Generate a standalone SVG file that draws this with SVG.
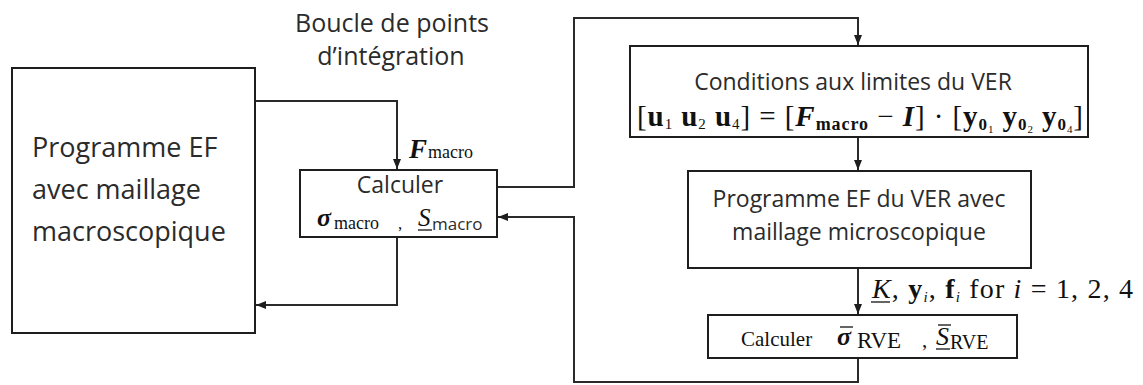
<svg xmlns="http://www.w3.org/2000/svg" width="1143" height="385" viewBox="0 0 1143 385">
<style>
.box{fill:#fff;stroke:#1e1e1e;stroke-width:2}
.cn{fill:none;stroke:#2a2a2a;stroke-width:2}
.ul{stroke:#111;stroke-width:1.3}
.s{font-family:"Open Sans","Noto Sans",sans-serif;fill:#2b2b2b}
.m{font-family:"Liberation Serif","DejaVu Serif",serif;fill:#111}
.b{font-weight:bold}
.bi{font-weight:bold;font-style:italic}
.i{font-style:italic}
</style>
<defs>
<marker id="ah" markerUnits="userSpaceOnUse" markerWidth="10" markerHeight="9" viewBox="0 0 10 8" refX="10" refY="4" orient="auto"><path d="M0,0 L10,4 L0,8 z" fill="#1e1e1e"/></marker>
</defs>
<rect width="1143" height="385" fill="#fff"/>

<g id="title">
<text class="s" x="392" y="32" font-size="25" text-anchor="middle">Boucle de points</text>
<text class="s" x="391" y="65" font-size="25" text-anchor="middle">d’intégration</text>
</g>

<g id="connectors">
<path class="cn" d="M255,101 H397 V169" marker-end="url(#ah)"/>
<path class="cn" d="M497,187 H574 V18 H858 V45" marker-end="url(#ah)"/>
<path class="cn" d="M858,137 V170" marker-end="url(#ah)"/>
<path class="cn" d="M858,268 V314" marker-end="url(#ah)"/>
<path class="cn" d="M858,358 V382 H574 V217 H498" marker-end="url(#ah)"/>
<path class="cn" d="M397,237 V305 H256" marker-end="url(#ah)"/>
<g id="label-F">
<text class="m" x="409" y="158" font-size="27"><tspan class="bi">F</tspan><tspan font-size="18" dx="1">macro</tspan></text>
</g>
<g id="label-K">
<text class="m" x="872" y="298" font-size="28" textLength="261" lengthAdjust="spacing"><tspan class="i">K</tspan>, <tspan class="b">y</tspan><tspan class="i" font-size="15" dy="4">i</tspan><tspan dy="-4">, </tspan><tspan class="b">f</tspan><tspan class="i" font-size="15" dy="4">i</tspan><tspan dy="-4"> for </tspan><tspan class="i">i</tspan> = 1, 2, 4</text>
<line class="ul" x1="871" y1="302" x2="890" y2="302"/>
</g>
</g>

<g id="node-macro">
<rect class="box" x="12" y="68" width="243" height="265"/>
<text class="s" x="32" y="157" font-size="27">Programme EF</text>
<text class="s" x="32" y="199" font-size="27">avec maillage</text>
<text class="s" x="32" y="241" font-size="27">macroscopique</text>
</g>

<g id="node-calc-macro">
<rect class="box" x="300" y="170" width="197" height="67"/>
<text class="s" x="400" y="193" font-size="23" text-anchor="middle">Calculer</text>
<text class="m" x="317" y="226" font-size="26"><tspan class="bi">σ</tspan><tspan font-size="18" dx="3" dy="3">macro</tspan></text>
<text class="m" x="398" y="229" font-size="17">,</text>
<text class="m i" x="418" y="226" font-size="25">S</text>
<text class="s" x="432" y="230" font-size="17">macro</text>
<line class="ul" x1="418" y1="230" x2="432" y2="230"/>
</g>

<g id="node-conditions">
<rect class="box" x="630" y="46" width="458" height="91"/>
<text class="s" x="853" y="90" font-size="23" text-anchor="middle">Conditions aux limites du VER</text>
<text class="m" x="637" y="126" font-size="29" textLength="446" lengthAdjust="spacing">[<tspan class="b">u</tspan><tspan font-size="15" dy="3">1</tspan><tspan dy="-3"> </tspan><tspan class="b">u</tspan><tspan font-size="15" dy="3">2</tspan><tspan dy="-3"> </tspan><tspan class="b">u</tspan><tspan font-size="15" dy="3">4</tspan><tspan dy="-3">] = [</tspan><tspan class="bi">F</tspan><tspan class="b" font-size="18" dy="4">macro</tspan><tspan dy="-4"> − </tspan><tspan class="bi">I</tspan>] · [<tspan class="b">y</tspan><tspan class="b" font-size="17" dy="4">0</tspan><tspan font-size="11" dy="3">1</tspan><tspan dy="-7"> </tspan><tspan class="b">y</tspan><tspan class="b" font-size="17" dy="4">0</tspan><tspan font-size="11" dy="3">2</tspan><tspan dy="-7"> </tspan><tspan class="b">y</tspan><tspan class="b" font-size="17" dy="4">0</tspan><tspan font-size="11" dy="3">4</tspan><tspan dy="-7">]</tspan></text>
</g>

<g id="node-ver">
<rect class="box" x="688" y="171" width="343" height="97"/>
<text class="s" x="859" y="207" font-size="23" text-anchor="middle">Programme EF du VER avec</text>
<text class="s" x="859" y="240" font-size="23" text-anchor="middle">maillage microscopique</text>
</g>

<g id="node-calc-rve">
<rect class="box" x="708" y="315" width="309" height="43"/>
<text class="m" x="741" y="346" font-size="21">Calculer</text>
<text class="m" x="837" y="345" font-size="26"><tspan class="bi">σ</tspan><tspan font-size="23" dx="6" dy="3">RVE</tspan></text>
<text class="m" x="922" y="347" font-size="21">,</text>
<text class="m i" x="936" y="345" font-size="26">S</text>
<text class="m" x="950" y="349" font-size="20">RVE</text>
<line class="ul" x1="840" y1="327" x2="853" y2="327"/>
<line class="ul" x1="938" y1="325" x2="951" y2="325"/>
<line class="ul" x1="936" y1="349" x2="950" y2="349"/>
</g>
</svg>
